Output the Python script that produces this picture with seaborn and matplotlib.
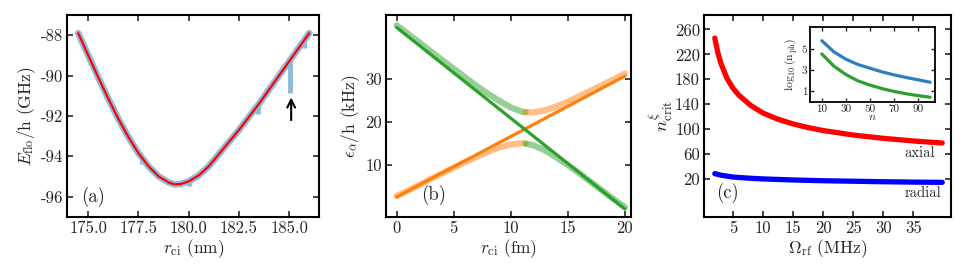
import matplotlib
matplotlib.use("Agg")
import matplotlib.pyplot as plt
import seaborn as sns
import pandas as pd

# ---- panel (a): floquet energy vs r_ci ----
a_x = [174.5, 175.0, 175.5, 176.0, 176.5, 177.0, 177.5, 178.0, 178.5, 179.0, 179.3,
       179.6, 180.0, 180.5, 181.0, 181.5, 182.0, 182.5, 183.0, 183.5, 184.0, 184.5,
       185.0, 185.5, 186.0]
a_fit = [-87.9, -89.0, -90.1, -91.15, -92.15, -93.05, -93.85, -94.5, -95.0, -95.3, -95.4,
         -95.38, -95.25, -94.95, -94.5, -93.9, -93.3, -92.7, -92.05, -91.4, -90.7, -90.0,
         -89.3, -88.6, -87.9]
spike_x = [177.66, 180.0, 183.47, 185.05, 185.72]
spike_top = [-94.05, -95.25, -91.45, -89.25, -88.3]
spike_low = [-94.4, -95.5, -91.9, -90.85, -88.65]

# ---- panel (b): avoided crossing ----
b_x = [0, 1, 2, 3, 4, 5, 6, 7, 8, 9, 10, 11, 11.3, 12, 13, 14, 15, 16, 17, 18, 19, 20]
b_upper = [42.5, 40.5, 38.5, 36.4, 34.4, 32.4, 30.4, 28.4, 26.6, 24.9, 23.4, 22.4, 22.3,
           22.25, 22.75, 23.65, 24.75, 26.0, 27.3, 28.6, 29.9, 31.3]
b_lower = [2.8, 4.1, 5.4, 6.8, 8.1, 9.4, 10.7, 11.9, 13.1, 14.1, 14.8, 15.1, 15.0,
           14.6, 13.4, 11.8, 10.0, 8.1, 6.1, 4.1, 2.1, 0.2]
b_split = 11.3
b_line_x = [0, 20]
b_green = [42.0, -0.2]
b_orange = [2.6, 30.7]

# ---- panel (c): critical photon number ----
c_omega = [2, 2.5, 3, 4, 5, 6, 8, 10, 12.5, 15, 17.5, 20, 25, 30, 35, 39.8]
c_axial = [246, 223, 206, 182, 166, 154.5, 138, 126, 116, 108.6, 102.7, 98, 90.8, 85.5, 81.3, 78]
c_rad_omega = [2, 3, 5, 8, 10, 15, 20, 25, 30, 35, 39.8]
c_radial = [29, 26.5, 23.5, 21.5, 20.5, 18.8, 17.6, 16.8, 16.0, 15.4, 15.0]

# inset
n_vals = [10, 20, 30, 40, 50, 60, 70, 80, 90, 100]
log_nph_blue = [5.8, 4.75, 4.05, 3.55, 3.2, 2.85, 2.57, 2.32, 2.1, 1.87]
log_nph_green = [4.55, 3.4, 2.6, 2.0, 1.6, 1.27, 1.0, 0.78, 0.6, 0.45]

sns.set_style("ticks")
plt.rcParams["font.family"] = ["cmr10", "DejaVu Serif"]
plt.rcParams["mathtext.fontset"] = "cm"
plt.rcParams["axes.unicode_minus"] = False
plt.rcParams["axes.formatter.use_mathtext"] = False
plt.rcParams["axes.linewidth"] = 1.5
plt.rcParams["axes.edgecolor"] = "black"

fs_tick = 12
fs_lab = 12.5

fig = plt.figure(figsize=(9.69, 2.78), dpi=100)
ax1 = fig.add_axes([0.0695, 0.2205, 0.2600, 0.7255])
ax2 = fig.add_axes([0.3983, 0.2205, 0.2525, 0.7255])
ax3 = fig.add_axes([0.7265, 0.2205, 0.2546, 0.7255])
axin = fig.add_axes([0.8359, 0.6331, 0.1290, 0.2698])

light_blue = "#8fbbd9"

# (a)
sns.lineplot(x=a_x, y=a_fit, ax=ax1, color=light_blue, lw=4.8, solid_capstyle="round")
ax1.vlines(spike_x, spike_low, spike_top, color=light_blue, lw=3.5)
sns.lineplot(x=a_x, y=a_fit, ax=ax1, color="red", lw=1.6)
ax1.annotate("", xy=(185.1, -90.95), xytext=(185.1, -92.35),
             arrowprops=dict(arrowstyle="->", lw=1.5, color="black", mutation_scale=14))
ax1.set_xlim(173.96, 186.5)
ax1.set_ylim(-97, -87)
ax1.set_xticks([175.0, 177.5, 180.0, 182.5, 185.0])
ax1.set_yticks([-88, -90, -92, -94, -96])
ax1.set_xlabel(r"$r_{\rm ci}$ (nm)", fontsize=fs_lab, labelpad=1)
ax1.set_ylabel(r"$E_{\rm flo}$/h (GHz)", fontsize=fs_lab, labelpad=2)
ax1.text(174.65, -96.0, "(a)", fontsize=13.5, va="center")

# (b)
df_b = pd.DataFrame({"x": b_x, "up": b_upper, "lo": b_lower})
left = df_b[df_b.x <= b_split]
right = df_b[df_b.x >= b_split]
green, orange = "#2ca02c", "#ff7f0e"
sns.lineplot(x=left.x, y=left.up, ax=ax2, color=green, lw=4.5, alpha=0.5)
sns.lineplot(x=right.x, y=right.up, ax=ax2, color=orange, lw=4.5, alpha=0.5)
sns.lineplot(x=left.x, y=left.lo, ax=ax2, color=orange, lw=4.5, alpha=0.5)
sns.lineplot(x=right.x, y=right.lo, ax=ax2, color=green, lw=4.5, alpha=0.5)
sns.lineplot(x=b_line_x, y=b_orange, ax=ax2, color=orange, lw=2.3)
sns.lineplot(x=b_line_x, y=b_green, ax=ax2, color=green, lw=2.3)
ax2.set_xlim(-0.94, 20.5)
ax2.set_ylim(-2, 44.9)
ax2.set_xticks([0, 5, 10, 15, 20])
ax2.set_yticks([10, 20, 30])
ax2.set_xlabel(r"$r_{\rm ci}$ (fm)", fontsize=fs_lab, labelpad=1)
ax2.set_ylabel(r"$\epsilon_\alpha$/h (kHz)", fontsize=fs_lab, labelpad=2)
ax2.text(2.1, 3.0, "(b)", fontsize=13.5, va="center")

# (c)
sns.lineplot(x=c_omega, y=c_axial, ax=ax3, color="red", lw=3.8)
sns.lineplot(x=c_rad_omega, y=c_radial, ax=ax3, color="blue", lw=3.8)
ax3.set_xlim(0.2, 41.2)
ax3.set_ylim(-40, 283)
ax3.set_xticks([5, 10, 15, 20, 25, 30, 35])
ax3.set_yticks([20, 60, 100, 140, 180, 220, 260])
ax3.set_xlabel(r"$\Omega_{\rm rf}$ (MHz)", fontsize=fs_lab, labelpad=1)
ax3.set_ylabel(r"$n^{\xi}_{\rm crit}$", fontsize=fs_lab + 1, labelpad=0)
ax3.text(36.1, 62, "axial", fontsize=10.5, ha="center", va="center")
ax3.text(36.6, -2, "radial", fontsize=10.5, ha="center", va="center")
ax3.text(2.2, -2, "(c)", fontsize=13.5, va="center")

# inset
sns.lineplot(x=n_vals, y=log_nph_blue, ax=axin, color="#2f7fbf", lw=2.3)
sns.lineplot(x=n_vals, y=log_nph_green, ax=axin, color=green, lw=2.3)
axin.set_xlim(0.2, 104)
axin.set_ylim(0, 7.1)
axin.set_xticks([10, 30, 50, 70, 90])
axin.set_yticks([1, 3, 5])
axin.set_xlabel(r"$n$", fontsize=8.5, labelpad=-1)
axin.set_ylabel(r"$\log_{10}(\mathrm{n}_{\mathrm{ph}})$", fontsize=8.5, labelpad=1)
axin.tick_params(labelsize=8, direction="in", top=True, right=True,
                 length=3, width=1, pad=2)

for ax in (ax1, ax2, ax3):
    ax.tick_params(labelsize=fs_tick, direction="in", top=True, right=True,
                   length=4.5, width=1.2, pad=3)
    for s in ax.spines.values():
        s.set_linewidth(1.5)
for s in axin.spines.values():
    s.set_linewidth(1.3)

fig.savefig("out.png", dpi=100)
